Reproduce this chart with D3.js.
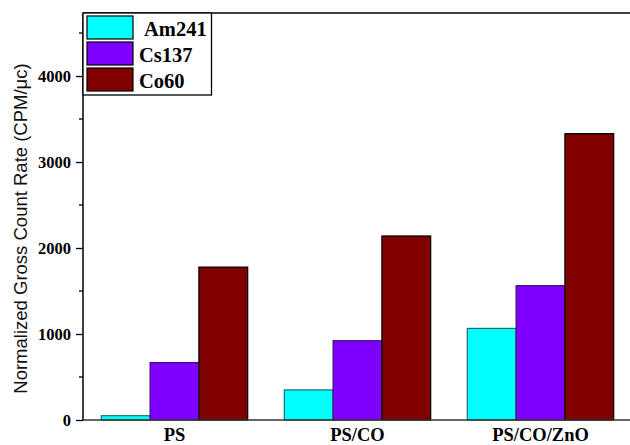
<!DOCTYPE html>
<html>
<head>
<meta charset="utf-8">
<script src="https://cdn.jsdelivr.net/npm/d3@7"></script>
<style>
  body { margin: 0; background: #fff; }
  svg { display: block; }
</style>
</head>
<body>
<script>
const samples = ["PS", "PS/CO", "PS/CO/ZnO"];
const sources = ["Am241", "Cs137", "Co60"];
const am241 = [50, 350, 1065];
const cs137 = [668, 922, 1562];
const co60 = [1778, 2140, 3330];
const colors = ["#00ffff", "#8000ff", "#800000"];
const strokes = ["#1f6f6f", "#3a1070", "#000000"];
const majorTicks = [0, 1000, 2000, 3000, 4000];
const minorTicks = [500, 1500, 2500, 3500, 4500];

const series = [am241, cs137, co60];

const width = 630, height = 445;
const plotLeft = 83, plotTop = 13, plotBottom = 420;

let svg = d3.select("body").append("svg")
    .attr("width", width)
    .attr("height", height);

let x0 = d3.scaleBand()
    .domain(samples)
    .range([plotLeft, 632])
    .paddingInner(0.2)
    .paddingOuter(0.1);

let x1 = d3.scaleBand()
    .domain(sources)
    .range([0, x0.bandwidth()]);

let y = d3.scaleLinear()
    .domain([0, 4733])
    .range([plotBottom, plotTop]);

// bars
let groups = svg.append("g")
    .selectAll("g")
    .data(samples)
    .join("g")
    .attr("transform", d => `translate(${x0(d)},0)`);

groups.selectAll("rect")
    .data((d, i) => sources.map((s, j) => ({source: s, idx: j, value: series[j][i]})))
    .join("rect")
    .attr("x", d => x1(d.source))
    .attr("y", d => y(d.value))
    .attr("width", x1.bandwidth())
    .attr("height", d => y(0) - y(d.value))
    .attr("fill", d => colors[d.idx])
    .attr("stroke", d => strokes[d.idx])
    .attr("stroke-width", 1.2);

// frame lines (top and bottom run off the right edge)
svg.append("line")
    .attr("x1", plotLeft).attr("x2", width)
    .attr("y1", plotTop).attr("y2", plotTop)
    .attr("stroke", "#000").attr("stroke-width", 1.3);

svg.append("line")
    .attr("x1", plotLeft).attr("x2", width)
    .attr("y1", plotBottom).attr("y2", plotBottom)
    .attr("stroke", "#333").attr("stroke-width", 1.5);

// y axis
let yAxis = svg.append("g")
    .attr("transform", `translate(${plotLeft},0)`)
    .call(d3.axisLeft(y).tickValues(majorTicks).tickSize(7).tickPadding(5).tickFormat(d3.format("d")));

yAxis.select(".domain").remove();
yAxis.append("line")
    .attr("x1", 0).attr("x2", 0)
    .attr("y1", plotTop).attr("y2", plotBottom)
    .attr("stroke", "#000").attr("stroke-width", 1.5);

yAxis.selectAll(".tick line").attr("stroke-width", 1.3);
yAxis.selectAll(".tick text")
    .attr("font-family", "'Liberation Serif', 'Times New Roman', serif")
    .attr("font-weight", "bold")
    .attr("font-size", 16.5)
    .attr("fill", "#000");

svg.append("g")
    .selectAll("line")
    .data(minorTicks)
    .join("line")
    .attr("x1", plotLeft - 4).attr("x2", plotLeft)
    .attr("y1", d => y(d)).attr("y2", d => y(d))
    .attr("stroke", "#000").attr("stroke-width", 1.3);

// x labels
svg.append("g")
    .selectAll("text")
    .data(samples)
    .join("text")
    .attr("x", d => x0(d) + x0.bandwidth() / 2)
    .attr("y", 441)
    .attr("text-anchor", "middle")
    .attr("font-family", "'Liberation Serif', 'Times New Roman', serif")
    .attr("font-weight", "bold")
    .attr("font-size", 18.5)
    .text(d => d);

// y title
svg.append("text")
    .attr("transform", `translate(27,${(plotTop + plotBottom) / 2 + 12}) rotate(-90)`)
    .attr("text-anchor", "middle")
    .attr("font-family", "'Liberation Sans', Arial, sans-serif")
    .attr("font-size", 18.5)
    .attr("fill", "#111")
    .text("Normalized Gross Count Rate (CPM/\u03bcc)");

// legend
let legend = svg.append("g");
legend.append("rect")
    .attr("x", plotLeft).attr("y", plotTop)
    .attr("width", 128.5).attr("height", 82)
    .attr("fill", "#fff")
    .attr("stroke", "#000").attr("stroke-width", 1.3);

let items = legend.selectAll("g.item")
    .data(sources)
    .join("g")
    .attr("class", "item")
    .attr("transform", (d, i) => `translate(${plotLeft + 4},${plotTop + 3 + i * 26})`);

items.append("rect")
    .attr("width", 46).attr("height", 23)
    .attr("fill", (d, i) => colors[i])
    .attr("stroke", "#000").attr("stroke-width", 1.2);

items.append("text")
    .attr("x", (d, i) => i === 0 ? 57 : 52)
    .attr("y", 20)
    .attr("font-family", "'Liberation Serif', 'Times New Roman', serif")
    .attr("font-weight", "bold")
    .attr("font-size", 20.5)
    .text(d => d);
</script>
</body>
</html>
